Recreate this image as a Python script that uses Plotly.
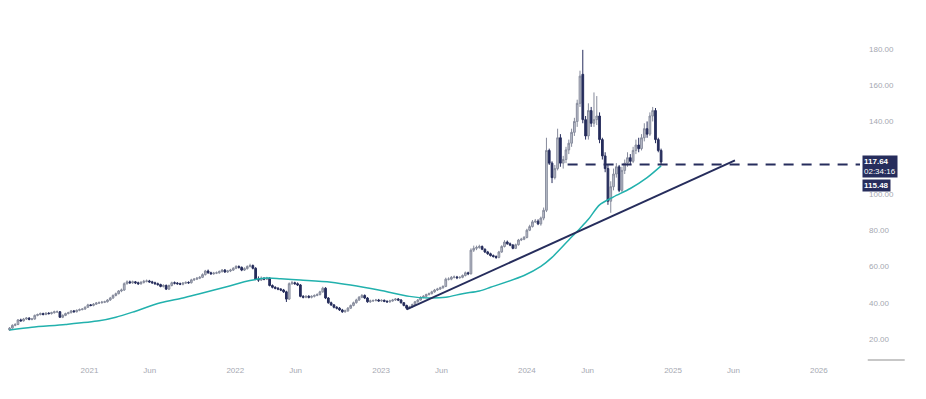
import plotly.graph_objects as go
import pandas as pd

# ---------------- data (weekly candles) ----------------
start_week = "2020-06-15"

opens = [
    25, 26, 27.5, 28, 30.5, 30, 31, 31.5, 30.8, 31,
    33, 33.5, 34, 33.5, 34.2, 34, 34.5, 35, 35, 32,
    33, 34, 34.5, 35.5, 35, 35.8, 36.2, 36.5, 37.5, 38.8,
    38.5, 39.2, 39.8, 40, 40.3, 40.5, 41.5, 42.6, 44, 45,
    46.5, 47, 50.5, 51.5, 51, 51.5, 51, 50.5, 51.2, 51.8,
    52, 51.5, 51, 50.5, 50, 49, 49.5, 47.5, 49.5, 51,
    50.8, 50.5, 50.2, 50.8, 51.2, 51, 52.6, 53, 53.5, 54,
    55.5, 57.5, 56.5, 56, 56.3, 56.5, 57.2, 58, 57, 57.5,
    58, 59, 60, 59.5, 58, 58.8, 60, 60.5, 59, 53,
    52.5, 53.5, 53, 53.6, 49.5, 48.5, 48, 47.5, 47, 46,
    42, 50.5, 51, 50.5, 49.8, 43.5, 43, 43.5, 43, 43.5,
    44, 44.5, 46, 48, 42.6, 40, 38.8, 37.5, 37, 36,
    35, 35.5, 37, 38.5, 40, 41.5, 43, 44, 42.6, 40.5,
    41, 41.2, 41.5, 41, 41.3, 40.8, 40.5, 41, 41.5, 42,
    41.5, 40, 38.5, 37, 37.7, 39, 40.5, 41.5, 43, 43.5,
    44.5, 45, 46, 47, 47.5, 48.2, 49, 53, 53, 54,
    54.2, 53.8, 54, 55, 56.5, 56, 69, 70, 70.5, 71,
    69.5, 68, 67, 66, 65.5, 65, 68, 71, 73.5, 72.5,
    71.8, 70, 72, 74.6, 75, 76, 80, 82, 84.6, 85,
    83.5, 86.7, 91, 124, 117, 109, 114, 131, 117, 119,
    124.3, 128, 134, 140, 150, 166, 141, 132, 146, 139,
    141, 143, 130, 121, 114, 96, 104, 111, 115, 102,
    113, 117, 120, 118, 124, 127, 125, 131, 136, 133,
    143, 146, 130, 124,
]

highs = [
    26.6, 28.1, 28.7, 31, 31.2, 31.6, 32.1, 32, 31.6, 33.5,
    34, 34.6, 34.5, 34.8, 34.8, 35, 35.6, 35.7, 35.4, 33.6,
    34.5, 35, 36, 36, 36.3, 36.8, 37, 38, 39.4, 39.3,
    39.8, 40.4, 40.7, 41, 41.1, 42, 43.2, 44.6, 45.6, 47,
    47.8, 51.2, 52.3, 52.2, 52.2, 52, 51.6, 52, 52.6, 52.8,
    52.6, 52.1, 51.6, 51.1, 50.5, 50.2, 50.1, 50, 51.6, 51.7,
    51.4, 51.1, 51.4, 51.8, 51.8, 53.2, 53.6, 54.2, 54.7, 56.2,
    58.1, 58.3, 57.1, 57, 57.2, 57.8, 58.6, 58.6, 58.1, 58.7,
    59.6, 60.7, 60.6, 60, 59.5, 60.6, 61.5, 61.1, 59.6, 54.5,
    54.5, 54.1, 54.3, 54, 50.1, 49.1, 48.6, 48.1, 47.6, 46.6,
    51.2, 52, 51.6, 51.2, 50.3, 44.2, 44.1, 44.2, 44.1, 44.6,
    45.2, 46.6, 48.8, 48.6, 43.1, 40.6, 39.3, 38.1, 37.6, 36.6,
    36.2, 37.6, 39, 40.6, 42.2, 43.7, 44.8, 44.6, 43.1, 41.7,
    41.8, 42.1, 42.1, 41.9, 41.8, 41.3, 41.6, 42.1, 42.6, 42.6,
    42, 40.4, 38.9, 38.3, 39.5, 41, 42, 43.6, 44.2, 45,
    45.6, 46.6, 47.6, 48.2, 48.8, 49.6, 53.8, 54, 54.7, 55,
    54.8, 54.6, 55.6, 57.2, 57.1, 70, 71.5, 71.5, 72, 71.6,
    70, 68.6, 67.6, 66.6, 66.1, 68.6, 71.7, 74.5, 74.3, 73.2,
    72.4, 72.6, 75.2, 75.8, 76.8, 80.8, 83, 85.6, 86.2, 86,
    87.5, 92.5, 131, 125, 118, 116, 136, 133, 121, 126,
    130, 136, 142, 152, 168, 179.5, 143, 150, 148, 156,
    154, 145, 131, 123, 116, 107, 114, 117, 116, 115,
    119, 123, 122, 126, 130, 131, 133, 139, 140, 145,
    148, 147.4, 131, 125,
]

lows = [
    24.4, 25.6, 27, 27.6, 29.6, 29.6, 30.5, 30.3, 30.3, 30.6,
    32.5, 33, 33, 33.1, 33.5, 33.5, 34, 34.4, 31.6, 31.5,
    32.6, 33.6, 34.1, 34.6, 34.6, 35.3, 35.8, 36.1, 37.1, 38,
    38, 38.8, 39.3, 39.5, 39.8, 40.1, 41, 42.1, 43.5, 44.6,
    45.8, 46.5, 50, 50.4, 50.4, 50.3, 49.8, 49.9, 50.6, 51.2,
    51, 50.4, 49.9, 49.4, 48.5, 48.4, 47, 47, 49, 50.1,
    49.9, 49.7, 49.6, 50.3, 50.4, 50.6, 52, 52.5, 53, 53.6,
    55, 56, 55.4, 55.4, 55.8, 56, 56.6, 56.4, 56.4, 56.9,
    57.5, 58.5, 58.8, 57.4, 57.5, 58.3, 59.5, 58.4, 52.4, 51.5,
    52, 52.4, 52.5, 49, 47.9, 47.4, 46.9, 46.4, 45.4, 40.4,
    41.5, 49.9, 49.9, 49.2, 43, 42.4, 42.5, 42.4, 42.4, 42.9,
    43.6, 44, 45.5, 42, 39.4, 38.2, 36.9, 36.3, 35.5, 34.4,
    34.5, 35, 36.5, 38, 39.5, 41, 42.5, 42, 40, 39.9,
    40.4, 40.7, 40.5, 40.5, 40.3, 39.9, 40, 40.5, 41, 40.9,
    39.5, 38, 36.2, 36.5, 37.3, 38.6, 40, 41.2, 42.5, 43,
    44, 44.6, 45.5, 46.5, 47.1, 47.8, 48.6, 52.3, 52.4, 53.4,
    53, 53.2, 53.5, 54.5, 55.2, 55.5, 68, 69, 69.8, 69,
    67.4, 66.4, 65.5, 64.9, 64.2, 64.5, 67.5, 70.5, 72, 71.2,
    69.5, 69.6, 71.5, 74, 74.5, 75.5, 79.5, 81.5, 84, 82.8,
    82.5, 85.5, 90, 116, 106, 108, 113, 115, 114, 117,
    122, 126, 132, 137, 148, 139, 130, 130, 137, 137,
    138, 128, 119, 112, 94, 89.6, 102, 109, 101, 101,
    111, 115, 116, 117, 122, 123, 124, 129, 131, 132,
    140, 128, 123, 116,
]

closes = [
    26, 27.5, 28, 30.5, 30, 31, 31.5, 30.8, 31, 33,
    33.5, 34, 33.5, 34.2, 34, 34.5, 35, 35, 32, 33,
    34, 34.5, 35.5, 35, 35.8, 36.2, 36.5, 37.5, 38.8, 38.5,
    39.2, 39.8, 40, 40.3, 40.5, 41.5, 42.6, 44, 45, 46.5,
    47, 50.5, 51.5, 51, 51.5, 51, 50.5, 51.2, 51.8, 52,
    51.5, 51, 50.5, 50, 49, 49.5, 47.5, 49.5, 51, 50.8,
    50.5, 50.2, 50.8, 51.2, 51, 52.6, 53, 53.5, 54, 55.5,
    57.5, 56.5, 56, 56.3, 56.5, 57.2, 58, 57, 57.5, 58,
    59, 60, 59.5, 58, 58.8, 60, 60.5, 59, 53, 52.5,
    53.5, 53, 53.6, 49.5, 48.5, 48, 47.5, 47, 46, 42,
    50.5, 51, 50.5, 49.8, 43.5, 43, 43.5, 43, 43.5, 44,
    44.5, 46, 48, 42.6, 40, 38.8, 37.5, 37, 36, 35,
    35.5, 37, 38.5, 40, 41.5, 43, 44, 42.6, 40.5, 41,
    41.2, 41.5, 41, 41.3, 40.8, 40.5, 41, 41.5, 42, 41.5,
    40, 38.5, 37, 37.7, 39, 40.5, 41.5, 43, 43.5, 44.5,
    45, 46, 47, 47.5, 48.2, 49, 53, 53, 54, 54.2,
    53.8, 54, 55, 56.5, 56, 69, 70, 70.5, 71, 69.5,
    68, 67, 66, 65.5, 65, 68, 71, 73.5, 72.5, 71.8,
    70, 72, 74.6, 75, 76, 80, 82, 84.6, 85, 83.5,
    86.7, 91, 124, 117, 109, 114, 131, 117, 119, 124.3,
    128, 134, 140, 150, 165, 141, 132, 146, 139, 141,
    143, 130, 121, 114, 96, 104, 111, 115, 102, 113,
    117, 120, 118, 124, 127, 125, 131, 136, 133, 143,
    146, 130, 124, 117.64,
]

# moving average (teal)
ma_dates = [
    "2020-06-15", "2020-08-10", "2020-11-02", "2021-01-25", "2021-03-08",
    "2021-04-19", "2021-06-28", "2021-08-23", "2021-10-04", "2021-12-13",
    "2022-02-07", "2022-03-21", "2022-04-25", "2022-06-13", "2022-08-29",
    "2022-12-26", "2023-03-13", "2023-05-01", "2023-06-12", "2023-07-24",
    "2023-09-04", "2023-10-02", "2023-12-25", "2024-02-05", "2024-03-04",
    "2024-04-15", "2024-05-13", "2024-06-03", "2024-07-01", "2024-08-05",
    "2024-09-16", "2024-10-28", "2024-12-02",
]
ma_values = [
    25, 26.5, 28, 30, 32,
    34.8, 40, 42.6, 45, 49,
    52.2, 53.6, 53.2, 52.5, 51.3,
    47, 43.5, 42.6, 43, 45,
    46.5, 48.5, 55, 60, 65,
    74.6, 81, 86, 94, 98.4,
    103, 109, 115.48,
]

# trend line drawing
trend_dates = ["2023-03-06", "2025-06-05"]
trend_values = [36.3, 118.5]

# horizontal dashed level
level_start = "2024-04-12"
level_value = 116.3

countdown_text = "02:34:16"

x_range = ["2020-05-22", "2026-04-14"]
y_range = [8.4, 207.0]

x_tick_vals = ["2021-01-01", "2021-06-01", "2022-01-01", "2022-06-01", "2023-01-01",
               "2023-06-01", "2024-01-01", "2024-06-01", "2025-01-01", "2025-06-01",
               "2026-01-01"]
x_tick_text = ["2021", "Jun", "2022", "Jun", "2023", "Jun", "2024", "Jun", "2025", "Jun", "2026"]
# 120.00 sits behind the price label boxes in the reference, so it is not drawn
y_tick_vals = [20, 40, 60, 80, 100, 140, 160, 180]
y_tick_text = [f"{v:.2f}" for v in y_tick_vals]

# ---------------- styles ----------------
NAVY = "#262d5c"
UP_FILL = "#c0c3cf"
UP_LINE = "#868b9c"
TEAL = "#22b1ad"
AXIS_TXT = "#a6a9b2"
FONT = "Liberation Sans, Arial, sans-serif"

dates = pd.date_range(start_week, periods=len(closes), freq="7D")

fig = go.Figure()

fig.add_trace(go.Candlestick(
    x=dates, open=opens, high=highs, low=lows, close=closes,
    increasing=dict(line=dict(color=UP_LINE, width=1), fillcolor=UP_FILL),
    decreasing=dict(line=dict(color=NAVY, width=1), fillcolor=NAVY),
    whiskerwidth=0, showlegend=False, hoverinfo="skip",
))

fig.add_trace(go.Scatter(
    x=ma_dates, y=ma_values, mode="lines",
    line=dict(color=TEAL, width=1.5, shape="spline", smoothing=0.8),
    showlegend=False, hoverinfo="skip",
))

fig.add_trace(go.Scatter(
    x=trend_dates, y=trend_values, mode="lines",
    line=dict(color=NAVY, width=2),
    showlegend=False, hoverinfo="skip",
))

fig.add_trace(go.Scatter(
    x=[level_start, x_range[1]], y=[level_value, level_value], mode="lines",
    line=dict(color=NAVY, width=2, dash="10px,8px"),
    showlegend=False, hoverinfo="skip", cliponaxis=False,
))

fig.update_layout(
    width=926, height=399,
    margin=dict(l=0, r=66, t=0, b=39),
    paper_bgcolor="white", plot_bgcolor="white",
    font=dict(family=FONT, size=8, color=AXIS_TXT),
    showlegend=False,
    boxgap=0.12,
    xaxis=dict(
        type="date", range=x_range, showgrid=False, zeroline=False, showline=False,
        tickvals=x_tick_vals, ticktext=x_tick_text, ticks="",
        tickfont=dict(size=8, color=AXIS_TXT), rangeslider=dict(visible=False),
        ticklabelstandoff=4,
    ),
    yaxis=dict(
        side="right", range=y_range, showgrid=False, zeroline=False, showline=False,
        tickvals=y_tick_vals, ticktext=y_tick_text, ticks="",
        tickfont=dict(size=8, color=AXIS_TXT), ticklabelstandoff=8,
    ),
    shapes=[
        dict(type="line", xref="paper", yref="paper", x0=1.009, x1=1.052, y0=0, y1=0,
             line=dict(color="#b5b5b5", width=1.5)),
    ],
    annotations=[
        dict(xref="paper", yref="y", x=1.0025, y=closes[-1], xanchor="left", yanchor="middle",
             yshift=-4.5, showarrow=False, align="left",
             text=f"<b>{closes[-1]:.2f}</b><br>{countdown_text}",
             font=dict(family=FONT, size=8, color="white"),
             bgcolor=NAVY, borderpad=1),
        dict(xref="paper", yref="y", x=1.0025, y=ma_values[-1], xanchor="left", yanchor="middle",
             yshift=-19.5, showarrow=False, align="left",
             text=f"<b>{ma_values[-1]:.2f}</b>",
             font=dict(family=FONT, size=8, color="white"),
             bgcolor=NAVY, borderpad=1),
    ],
)

fig.write_html("out.html", config={"displayModeBar": False},
               post_script="document.body.style.margin='0';")
